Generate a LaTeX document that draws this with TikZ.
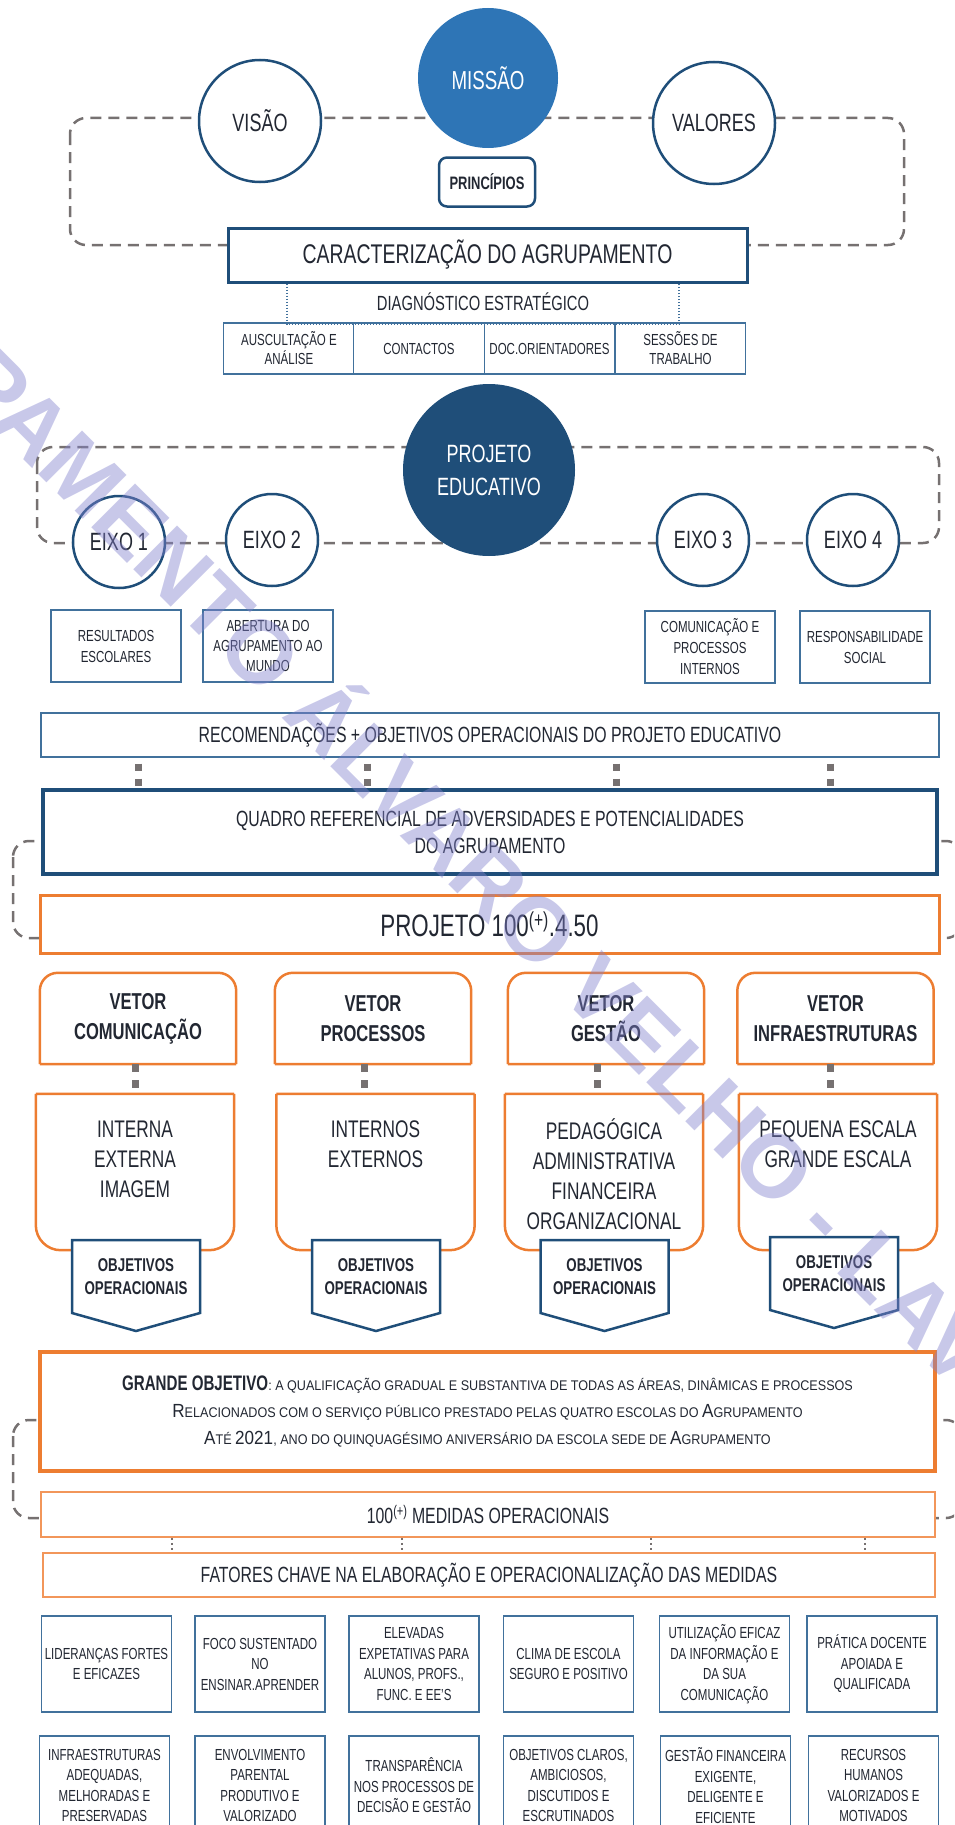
\documentclass[tikz,border=0pt]{standalone}
\usepackage{fontspec}
\setmainfont{Liberation Sans}[FakeStretch=0.72]
\newfontfamily\scfont{Liberation Sans}[FakeStretch=0.9]
\newfontfamily\wmfont{Liberation Sans}
\usetikzlibrary{calc}
\definecolor{azulescuro}{RGB}{31,78,121}
\definecolor{azulmedio}{RGB}{46,117,182}
\definecolor{azulfino}{RGB}{65,113,156}
\definecolor{laranja}{RGB}{237,125,49}
\definecolor{laranjaclaro}{RGB}{242,150,90}
\definecolor{cinza}{RGB}{118,113,113}
\definecolor{texto}{RGB}{34,39,50}
\definecolor{marcacor}{RGB}{130,130,205}
\newcommand{\tam}[2]{\fontsize{#1}{#2}\selectfont}
\newcommand{\maior}{\tam{19}{27}}
\tikzset{
  moldura/.style={draw=cinza, line width=2.5pt, dash pattern=on 11pt off 7pt, rounded corners=16pt},
  circulo/.style={circle, draw=azulescuro, line width=2.5pt, fill=white, text=texto, inner sep=0pt, font=\tam{25}{25}},
  circcheio/.style={circle, inner sep=0pt, text=white, align=center},
  caixa/.style={rectangle, draw=azulfino, line width=1.2pt, fill=white, text=texto, align=center, inner sep=1pt},
  caixagrossa/.style={rectangle, draw=azulescuro, fill=white, text=texto, align=center},
  caixalaranja/.style={rectangle, draw=laranja, fill=white, text=texto, align=center},
  tracejado/.style={draw=cinza, line width=7pt, dash pattern=on 7pt off 8pt},
  pontilhado/.style={draw=cinza, line width=2pt, dash pattern=on 2pt off 3pt},
  diaglinha/.style={draw=azulfino, line width=1.5pt, dash pattern=on 1.5pt off 1.5pt},
  vetorcx/.style={rectangle, minimum width=196pt, minimum height=91pt, text=texto, align=center, font=\bfseries\tam{23}{30}},
  vetorlinha/.style={draw=laranja, line width=2.5pt},
  conteudo/.style={rectangle, minimum width=198pt, minimum height=156pt},
  conttexto/.style={text=texto, align=center, font=\tam{24}{30}},
  objforma/.style={draw=azulescuro, line width=2.5pt, fill=white, line join=miter},
  objtexto/.style={text=texto, align=center, font=\bfseries\tam{18.5}{23}},
  fator/.style={caixa, minimum width=130pt, font=\tam{16}{20.5}},
  marca/.style={text=marcacor, text opacity=0.44, font=\wmfont\bfseries\tam{90}{90}, inner sep=0pt}
}

\begin{document}
\begin{tikzpicture}[x=1pt, y=-1pt]
    \useasboundingbox (0,0) rectangle (954,1825);
    \clip (0,0) rectangle (954,1825);

    % Molduras tracejadas
    \draw[moldura] (70,118) rectangle (904,245);
    \draw[moldura] (37,447) rectangle (939,543);
    \draw[moldura] (13,841) rectangle (962,938);
    \draw[moldura] (13,1420) rectangle (962,1518);

    % Missao, visao e valores
    \node[circulo, minimum size=122pt] (visao) at (260,121) {VISÃO};
    \node[circcheio, fill=azulmedio, minimum size=140pt, font=\tam{26}{26}] (missao) at (488,78) {MISSÃO};
    \node[circulo, minimum size=122pt] (valores) at (714,123) {VALORES};
    \node[caixagrossa, line width=2.5pt, rounded corners=8pt, minimum width=96pt, minimum height=49pt, font=\bfseries\tam{18}{18}] (principios) at (487,182) {PRINCÍPIOS};

    % Caracterizacao e diagnostico
    \node[caixagrossa, line width=3pt, minimum width=519pt, minimum height=54pt, font=\tam{27}{27}] (carac) at (487.5,255) {CARACTERIZAÇÃO DO AGRUPAMENTO};
    \node[text=texto, font=\tam{20.5}{20.5}] (diag) at (483,302) {DIAGNÓSTICO ESTRATÉGICO};
    \node[caixa, minimum width=130.5pt, minimum height=51pt, font=\tam{16}{19}] (d1) at (289,348.5) {AUSCULTAÇÃO E\\ANÁLISE};
    \node[caixa, minimum width=130.5pt, minimum height=51pt, font=\tam{16}{19}] (d2) at (419,348.5) {CONTACTOS};
    \node[caixa, minimum width=130.5pt, minimum height=51pt, font=\tam{16}{19}] (d3) at (549.5,348.5) {DOC.ORIENTADORES};
    \node[caixa, minimum width=130.5pt, minimum height=51pt, font=\tam{16}{19}] (d4) at (680.5,348.5) {SESSÕES DE\\TRABALHO};
    \coordinate (dl) at (287,0);
    \coordinate (dr) at (679,0);
    \draw[diaglinha] (carac.south -| dl) |- ([yshift=-1.5pt]d1.north -| dr) -- (carac.south -| dr);

    % Projeto educativo e eixos
    \node[circcheio, fill=azulescuro, minimum size=172pt, font=\tam{25}{33}] (pe) at (489,470) {PROJETO\\EDUCATIVO};
    \node[circulo, minimum size=92pt] (eixo1) at (119,542) {EIXO 1};
    \node[circulo, minimum size=92pt] (eixo2) at (272,540) {EIXO 2};
    \node[circulo, minimum size=92pt] (eixo3) at (703,540) {EIXO 3};
    \node[circulo, minimum size=92pt] (eixo4) at (853,540) {EIXO 4};
    \node[caixa, minimum width=130pt, minimum height=72pt, font=\tam{16}{21}] (e1) at (116,646) {RESULTADOS\\ESCOLARES};
    \node[caixa, minimum width=130pt, minimum height=72pt, font=\tam{16}{20}] (e2) at (268,646) {ABERTURA DO\\AGRUPAMENTO AO\\MUNDO};
    \node[caixa, minimum width=130pt, minimum height=72pt, font=\tam{16}{21}] (e3) at (710,647) {COMUNICAÇÃO E\\PROCESSOS\\INTERNOS};
    \node[caixa, minimum width=130pt, minimum height=72pt, font=\tam{16}{21}] (e4) at (865,647) {RESPONSABILIDADE\\SOCIAL};
    \node[caixa, minimum width=898pt, minimum height=44pt, font=\tam{22}{22}] (recom) at (490,735) {RECOMENDAÇÕES + OBJETIVOS OPERACIONAIS DO PROJETO EDUCATIVO};

    % Quadro referencial e projeto
    \node[caixagrossa, line width=4pt, minimum width=894pt, minimum height=84pt, font=\tam{22}{27}] (quadro) at (490,832) {QUADRO REFERENCIAL DE ADVERSIDADES E POTENCIALIDADES\\DO AGRUPAMENTO};
    \coordinate (q1) at (138,0);
    \coordinate (q2) at (367,0);
    \coordinate (q3) at (616,0);
    \coordinate (q4) at (830,0);
    \draw[tracejado, dash phase=9pt] (recom.south -| q1) -- (quadro.north -| q1);
    \draw[tracejado, dash phase=9pt] (recom.south -| q2) -- (quadro.north -| q2);
    \draw[tracejado, dash phase=9pt] (recom.south -| q3) -- (quadro.north -| q3);
    \draw[tracejado, dash phase=9pt] (recom.south -| q4) -- (quadro.north -| q4);
    \node[caixalaranja, line width=3pt, minimum width=899pt, minimum height=58pt, font=\tam{31}{31}] (projeto) at (489.5,924) {PROJETO 100\textsuperscript{(+)}.4.50};

    % Vetores
    \node[vetorcx] (v1) at (138,1018.5) {VETOR\\COMUNICAÇÃO};
    \node[vetorcx] (v2) at (373,1018.5) {VETOR\\PROCESSOS};
    \node[vetorcx] (v3) at (606,1018.5) {VETOR\\GESTÃO};
    \node[vetorcx] (v4) at (835.5,1018.5) {VETOR\\INFRAESTRUTURAS};
    \draw[vetorlinha] (v1.south west) [rounded corners=18pt] |- (v1.north) -| (v1.south east) (v1.south west) -- (v1.south east);
    \draw[vetorlinha] (v2.south west) [rounded corners=18pt] |- (v2.north) -| (v2.south east) (v2.south west) -- (v2.south east);
    \draw[vetorlinha] (v3.south west) [rounded corners=18pt] |- (v3.north) -| (v3.south east) (v3.south west) -- (v3.south east);
    \draw[vetorlinha] (v4.south west) [rounded corners=18pt] |- (v4.north) -| (v4.south east) (v4.south west) -- (v4.south east);

    % Areas de cada vetor
    \node[conteudo] (c1) at (135,1172) {};
    \node[conteudo] (c2) at (375.5,1172) {};
    \node[conteudo] (c3) at (604,1172) {};
    \node[conteudo] (c4) at (838,1172) {};
    \draw[vetorlinha] (c1.north west) [rounded corners=25pt] |- (c1.south) -| (c1.north east) (c1.north west) -- (c1.north east);
    \draw[vetorlinha] (c2.north west) [rounded corners=25pt] |- (c2.south) -| (c2.north east) (c2.north west) -- (c2.north east);
    \draw[vetorlinha] (c3.north west) [rounded corners=25pt] |- (c3.south) -| (c3.north east) (c3.north west) -- (c3.north east);
    \draw[vetorlinha] (c4.north west) [rounded corners=25pt] |- (c4.south) -| (c4.north east) (c4.north west) -- (c4.north east);
    \node[conttexto] (c1t) at (135,1159) {INTERNA\\EXTERNA\\IMAGEM};
    \node[conttexto] (c2t) at (375.5,1144) {INTERNOS\\EXTERNOS};
    \node[conttexto] (c3t) at (604,1174.5) {PEDAGÓGICA\\ADMINISTRATIVA\\FINANCEIRA\\ORGANIZACIONAL};
    \node[conttexto] (c4t) at (838,1144) {PEQUENA ESCALA\\GRANDE ESCALA};
    \coordinate (k1) at (135,0);
    \coordinate (k2) at (364,0);
    \coordinate (k3) at (597,0);
    \coordinate (k4) at (830,0);
    \draw[tracejado, dash pattern=on 8pt off 8pt] (v1.south -| k1) -- (c1.north -| k1);
    \draw[tracejado, dash pattern=on 8pt off 8pt] (v2.south -| k2) -- (c2.north -| k2);
    \draw[tracejado, dash pattern=on 8pt off 8pt] (v3.south -| k3) -- (c3.north -| k3);
    \draw[tracejado, dash pattern=on 8pt off 8pt] (v4.south -| k4) -- (c4.north -| k4);

    % Objetivos operacionais
    \coordinate (o1) at (136,1240);
    \coordinate (o2) at (376,1240);
    \coordinate (o3) at (604.5,1240);
    \coordinate (o4) at (834,1237);
    \draw[objforma] (o1) ++(-64,0) -- ++(128,0) -- ++(0,73) -- ++(-64,18) -- ++(-64,-18) -- cycle;
    \draw[objforma] (o2) ++(-64,0) -- ++(128,0) -- ++(0,73) -- ++(-64,18) -- ++(-64,-18) -- cycle;
    \draw[objforma] (o3) ++(-64,0) -- ++(128,0) -- ++(0,73) -- ++(-64,18) -- ++(-64,-18) -- cycle;
    \draw[objforma] (o4) ++(-64,0) -- ++(128,0) -- ++(0,73) -- ++(-64,18) -- ++(-64,-18) -- cycle;
    \node[objtexto] (o1t) at ($(o1)+(0,36.5)$) {OBJETIVOS\\OPERACIONAIS};
    \node[objtexto] (o2t) at ($(o2)+(0,36.5)$) {OBJETIVOS\\OPERACIONAIS};
    \node[objtexto] (o3t) at ($(o3)+(0,36.5)$) {OBJETIVOS\\OPERACIONAIS};
    \node[objtexto] (o4t) at ($(o4)+(0,36.5)$) {OBJETIVOS\\OPERACIONAIS};

    % Grande objetivo e medidas
    \node[caixalaranja, line width=4.5pt, minimum width=895pt, minimum height=119pt, font=\scfont\tam{14}{27}] (grande) at (487.5,1411.5) {{\normalfont\bfseries\tam{21}{27}GRANDE OBJETIVO}: A QUALIFICAÇÃO GRADUAL E SUBSTANTIVA DE TODAS AS ÁREAS, DINÂMICAS E PROCESSOS\\{\maior R}ELACIONADOS COM O SERVIÇO PÚBLICO PRESTADO PELAS QUATRO ESCOLAS DO {\maior A}GRUPAMENTO\\{\maior A}TÉ {\maior 2021}, ANO DO QUINQUAGÉSIMO ANIVERSÁRIO DA ESCOLA SEDE DE {\maior A}GRUPAMENTO};
    \node[caixalaranja, draw=laranjaclaro, line width=1.5pt, minimum width=894pt, minimum height=45pt, font=\tam{22}{22}] (medidas) at (488,1514.5) {100\textsuperscript{(+)} MEDIDAS OPERACIONAIS};
    \node[caixalaranja, draw=laranjaclaro, line width=1.5pt, minimum width=892pt, minimum height=44pt, font=\tam{22}{22}] (fatores) at (489,1575) {FATORES CHAVE NA ELABORAÇÃO E OPERACIONALIZAÇÃO DAS MEDIDAS};
    \coordinate (m1) at (172,0);
    \coordinate (m2) at (402,0);
    \coordinate (m3) at (651,0);
    \coordinate (m4) at (865,0);
    \draw[pontilhado] (medidas.south -| m1) -- (fatores.north -| m1);
    \draw[pontilhado] (medidas.south -| m2) -- (fatores.north -| m2);
    \draw[pontilhado] (medidas.south -| m3) -- (fatores.north -| m3);
    \draw[pontilhado] (medidas.south -| m4) -- (fatores.north -| m4);

    % Fatores chave
    \node[fator, minimum height=96pt] (f1) at (106.5,1664) {LIDERANÇAS FORTES\\E EFICAZES};
    \node[fator, minimum height=96pt] (f2) at (260,1664) {FOCO SUSTENTADO\\NO\\ENSINAR.APRENDER};
    \node[fator, minimum height=96pt] (f3) at (414,1664) {ELEVADAS\\EXPETATIVAS PARA\\ALUNOS, PROFS.,\\FUNC. E EE'S};
    \node[fator, minimum height=96pt] (f4) at (568.5,1664) {CLIMA DE ESCOLA\\SEGURO E POSITIVO};
    \node[fator, minimum height=96pt] (f5) at (724.5,1664) {UTILIZAÇÃO EFICAZ\\DA INFORMAÇÃO E\\DA SUA\\COMUNICAÇÃO};
    \node[fator, minimum height=96pt] (f6) at (872,1664) {PRÁTICA DOCENTE\\APOIADA E\\QUALIFICADA};
    \node[fator, minimum height=99pt] (f7) at (104.5,1785.5) {INFRAESTRUTURAS\\ADEQUADAS,\\MELHORADAS E\\PRESERVADAS};
    \node[fator, minimum height=99pt] (f8) at (260,1785.5) {ENVOLVIMENTO\\PARENTAL\\PRODUTIVO E\\VALORIZADO};
    \node[fator, minimum height=99pt] (f9) at (414,1785.5) {TRANSPARÊNCIA\\NOS PROCESSOS DE\\DECISÃO E GESTÃO};
    \node[fator, minimum height=99pt] (f10) at (568.5,1785.5) {OBJETIVOS CLAROS,\\AMBICIOSOS,\\DISCUTIDOS E\\ESCRUTINADOS};
    \node[fator, minimum height=99pt] (f11) at (725.5,1785.5) {GESTÃO FINANCEIRA\\EXIGENTE,\\DELIGENTE E\\EFICIENTE};
    \node[fator, minimum height=99pt] (f12) at (873.5,1785.5) {RECURSOS\\HUMANOS\\VALORIZADOS E\\MOTIVADOS};

    % Marca de agua
    \node[marca, rotate=-45, anchor=base west] (marca) at (-237,199) {AGRUPAMENTO ÁLVARO VELHO - LAVRADIO};
\end{tikzpicture}
\end{document}
